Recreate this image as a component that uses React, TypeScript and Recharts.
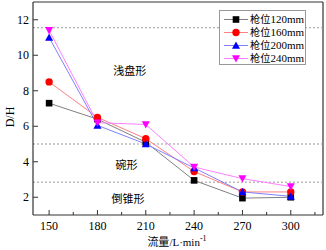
import React from 'react';
import { LineChart, Line, XAxis, YAxis, ReferenceLine, ReferenceDot } from 'recharts';

const flows = [150, 180, 210, 240, 270, 300];
const s120 = [7.3, 6.4, 5.1, 2.95, 1.95, 2.0];
const s160 = [8.5, 6.5, 5.3, 3.45, 2.3, 2.3];
const s200 = [11.0, 6.05, 5.0, 3.65, 2.3, 2.05];
const s240 = [11.4, 6.2, 6.1, 3.7, 3.05, 2.6];
const seriesNames = ['枪位120mm', '枪位160mm', '枪位200mm', '枪位240mm'];
const xTicks = [150, 165, 180, 195, 210, 225, 240, 255, 270, 285, 300, 315];
const xLabelTicks = [150, 180, 210, 240, 270, 300];
const yTicks = [2, 4, 6, 8, 10, 12];
const boundaries = [11.55, 5.0, 2.85];
const regions = [
  { name: '浅盘形', x: 200, y: 9.1 },
  { name: '碗形', x: 198, y: 3.8 },
  { name: '倒锥形', x: 199, y: 1.9 },
];

const data = flows.map((f, i) => ({ flow: f, a: s120[i], b: s160[i], c: s200[i], d: s240[i] }));

const lineColors = ['#808080', '#ff8080', '#8080ff', '#ff80ff'];
const markColors = ['#000000', '#ff0000', '#0000ff', '#ff00ff'];
const shapes = ['square', 'circle', 'up', 'down'];

const SERIF = '"Liberation Serif", "Times New Roman", serif';
const CJK = '"Noto Sans CJK SC", sans-serif';

function Marker({ cx, cy, shape, color }: any) {
  if (cx == null || cy == null) return null;
  const s = 3.3;
  if (shape === 'square') return <rect x={cx - s} y={cy - s} width={2 * s} height={2 * s} fill={color} />;
  if (shape === 'circle') return <circle cx={cx} cy={cy} r={s + 0.4} fill={color} />;
  if (shape === 'up') return <polygon points={`${cx},${cy - s - 0.7} ${cx - s - 0.7},${cy + s} ${cx + s + 0.7},${cy + s}`} fill={color} />;
  return <polygon points={`${cx},${cy + s + 0.7} ${cx - s - 0.7},${cy - s} ${cx + s + 0.7},${cy - s}`} fill={color} />;
}

const mkDot = (i: number) => (p: any) => <Marker key={`${i}-${p.index}`} cx={p.cx} cy={p.cy} shape={shapes[i]} color={markColors[i]} />;

function XTick(props: any) {
  const { x, y, payload } = props;
  const v = payload.value;
  const major = xLabelTicks.includes(v);
  return (
    <g>
      <line x1={x} x2={x} y1={y} y2={y - (major ? 5 : 3)} stroke="#333" strokeWidth={1} />
      {major && (
        <text x={x} y={y + 15} textAnchor="middle" fontSize={12} fontFamily={SERIF} fill="#000">{v}</text>
      )}
    </g>
  );
}

function YTick(props: any) {
  const { x, y, payload } = props;
  return (
    <g>
      <line x1={x} x2={x + 5} y1={y} y2={y} stroke="#333" strokeWidth={1} />
      <text x={x - 4} y={y + 4} textAnchor="end" fontSize={12} fontFamily={SERIF} fill="#000">{payload.value}</text>
    </g>
  );
}

function Overlay() {
  return (
    <svg width={326} height={250} style={{ position: 'absolute', left: 0, top: 0, pointerEvents: 'none' }}>
      <rect x={219.5} y={10.5} width={86} height={54} fill="#fff" stroke="#999" strokeWidth={1} />
      {seriesNames.map((n, i) => {
        const cy = 19.5 + i * 13;
        return (
          <g key={n}>
            <line x1={224} x2={248} y1={cy} y2={cy} stroke={lineColors[i]} strokeWidth={1} />
            <Marker cx={236} cy={cy} shape={shapes[i]} color={markColors[i]} />
            <text x={250} y={cy + 3.5} fontSize={10.2} fill="#000">
              <tspan fontFamily={CJK}>枪位</tspan>
              <tspan fontFamily={SERIF} fontSize={11}>{n.replace('枪位', '')}</tspan>
            </text>
          </g>
        );
      })}
      <text x={14} y={117} transform="rotate(-90 14 117)" textAnchor="middle" fontSize={12} fontFamily={SERIF} fill="#000">D/H</text>
      <text x={177} y={246} textAnchor="middle" fontSize={11} fill="#000">
        <tspan fontFamily={CJK}>流量</tspan>
        <tspan fontFamily={SERIF}>/L·min</tspan>
        <tspan fontFamily={SERIF} fontSize={8} dy={-5}>-1</tspan>
      </text>
    </svg>
  );
}

export default function App() {
  return (
    <div style={{ position: 'absolute', left: 0, top: 0, width: 326, height: 250, background: '#fff' }}>
      <LineChart width={326} height={250} data={data} margin={{ top: 2, right: 3, left: 0, bottom: 0 }}>
        <XAxis
          dataKey="flow"
          type="number"
          domain={[140, 320]}
          ticks={xTicks}
          interval={0}
          height={35}
          tickSize={0}
          tickMargin={0}
          tickLine={false}
          axisLine={{ stroke: '#333', strokeWidth: 1.2 }}
          tick={<XTick />}
          allowDataOverflow
        />
        <YAxis
          type="number"
          domain={[1, 13]}
          ticks={yTicks}
          interval={0}
          width={33}
          tickSize={0}
          tickMargin={0}
          tickLine={false}
          axisLine={{ stroke: '#333', strokeWidth: 1.2 }}
          tick={<YTick />}
          allowDataOverflow
        />
        <ReferenceLine y={13} stroke="#333" strokeWidth={1.2} />
        <ReferenceLine x={320} stroke="#333" strokeWidth={1.2} />
        {boundaries.map((b) => (
          <ReferenceLine key={b} y={b} stroke="#999" strokeDasharray="2 2" strokeWidth={1} />
        ))}
        {regions.map((r) => (
          <ReferenceDot
            key={r.name}
            x={r.x}
            y={r.y}
            r={0}
            fill="none"
            stroke="none"
            label={{ value: r.name, position: 'center', fontSize: 11, fontFamily: CJK, fill: '#000' }}
          />
        ))}
        <Line dataKey="a" name={seriesNames[0]} stroke={lineColors[0]} strokeWidth={1} dot={mkDot(0)} isAnimationActive={false} />
        <Line dataKey="b" name={seriesNames[1]} stroke={lineColors[1]} strokeWidth={1} dot={mkDot(1)} isAnimationActive={false} />
        <Line dataKey="c" name={seriesNames[2]} stroke={lineColors[2]} strokeWidth={1} dot={mkDot(2)} isAnimationActive={false} />
        <Line dataKey="d" name={seriesNames[3]} stroke={lineColors[3]} strokeWidth={1} dot={mkDot(3)} isAnimationActive={false} />
      </LineChart>
      <Overlay />
    </div>
  );
}
